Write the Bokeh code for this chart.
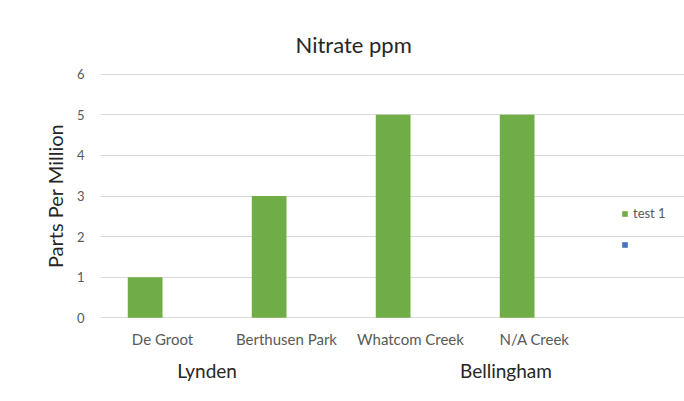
from bokeh.plotting import figure
from bokeh.models import (ColumnDataSource, Range1d, Legend, LegendItem,
                          FixedTicker, LinearAxis)
from bokeh.transform import dodge
from bokeh.embed import file_html
from bokeh.resources import INLINE

categories = ["De Groot", "Berthusen Park", "Whatcom Creek", "N/A Creek"]
test1 = [1, 3, 5, 5]
series2 = [float("nan")] * 4  # empty second series (blue legend entry, no label)
y_ticks = [0, 1, 2, 3, 4, 5, 6]
title_text = "Nitrate ppm"
y_title = "Parts Per Million"
group_labels = ["Lynden", "Bellingham"]
group_pos = [0.86, 3.27]  # position along the category axis (0..4)

FONT = "Lato"
GREEN = "#70AD47"
BLUE = "#4472C4"

W, H = 684, 401
LEFT, RIGHT_PLOT, TOP, BOTTOM = 100, 596, 73, 318
n = len(categories)
cat_pos = [i + 0.5 for i in range(n)]
x_end = n * (W - LEFT) / (RIGHT_PLOT - LEFT)   # frame runs to the right edge (legend lives there)

p = figure(width=W, height=H, x_range=Range1d(0, x_end), y_range=Range1d(-0.02, 6.02),
           output_backend="svg", toolbar_location=None,
           min_border_left=LEFT, min_border_right=0, min_border_top=TOP,
           min_border_bottom=H - BOTTOM)
p.outline_line_color = None
p.background_fill_color = "white"
p.border_fill_color = "white"

p.title.text = title_text
p.title.align = "left"
p.title.offset = 195
p.title.text_font = FONT
p.title.text_font_size = "22px"
p.title.text_font_style = "normal"
p.title.text_color = "#262626"
p.title.standoff = 31

src = ColumnDataSource(dict(x=cat_pos, val=test1))
r1 = p.vbar(x=dodge("x", -0.14), top="val", width=0.28, source=src,
            fill_color=GREEN, line_color=None)
src2 = ColumnDataSource(dict(x=cat_pos, val=series2))
r2 = p.vbar(x=dodge("x", 0.14), top="val", width=0.28, source=src2,
            fill_color=BLUE, line_color=None)

p.xgrid.grid_line_color = None
p.ygrid.grid_line_color = "#d9d9d9"
p.ygrid.grid_line_width = 1
p.ygrid.bounds = (0, n)

p.yaxis.ticker = FixedTicker(ticks=y_ticks)
p.xaxis.ticker = FixedTicker(ticks=cat_pos)
p.xaxis.major_label_overrides = {pos: c for pos, c in zip(cat_pos, categories)}
for ax in (p.xaxis[0], p.yaxis[0]):
    ax.axis_line_color = None
    ax.major_tick_line_color = None
    ax.minor_tick_line_color = None
    ax.major_label_text_font = FONT
    ax.major_label_text_color = "#595959"
p.xaxis.major_label_text_font_size = "15px"
p.yaxis.major_label_text_font_size = "13px"
p.yaxis.major_label_standoff = 10
p.xaxis.major_label_standoff = 5
p.yaxis.axis_label = y_title
p.yaxis.axis_label_text_font = FONT
p.yaxis.axis_label_text_font_size = "20px"
p.yaxis.axis_label_text_font_style = "normal"
p.yaxis.axis_label_text_color = "#262626"
p.yaxis.axis_label_standoff = 7

# group labels (Lynden / Bellingham) as a second axis below the categories
gax = LinearAxis(ticker=FixedTicker(ticks=group_pos),
                 major_label_overrides={pos: lab for pos, lab in zip(group_pos, group_labels)})
gax.axis_line_color = None
gax.major_tick_line_color = None
gax.minor_tick_line_color = None
gax.major_label_text_font = FONT
gax.major_label_text_font_size = "19px"
gax.major_label_text_color = "#262626"
gax.major_label_standoff = 2
p.add_layout(gax, "below")

legend = Legend(items=[LegendItem(label="test 1", renderers=[r1]),
                       LegendItem(label=" ", renderers=[r2])],
                location=(521, 66), orientation="vertical",
                glyph_width=7, glyph_height=7, label_height=16, spacing=15,
                padding=0, margin=0, border_line_color=None, background_fill_alpha=0,
                label_text_font=FONT, label_text_font_size="13px", label_text_color="#595959",
                label_standoff=5)
p.add_layout(legend)

open("out.html", "w").write(file_html(p, INLINE))
